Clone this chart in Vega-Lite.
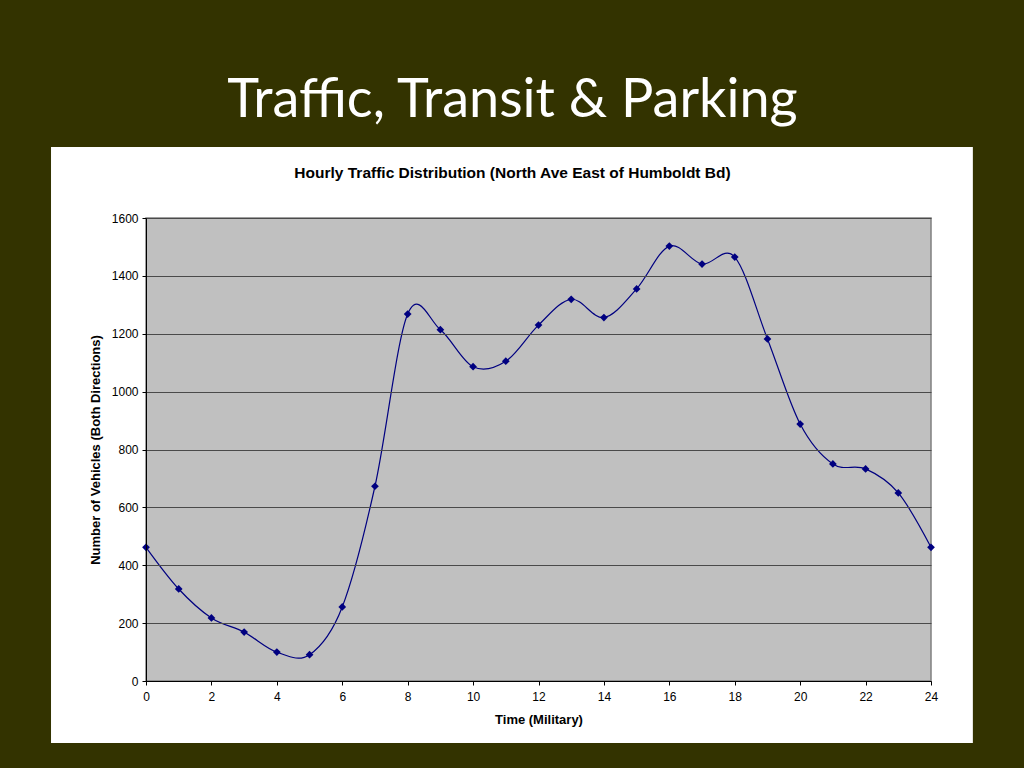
{
  "$schema": "https://vega.github.io/schema/vega-lite/v6.json",
  "width": 785,
  "height": 463,
  "autosize": "none",
  "padding": {"left": 146, "top": 218, "right": 93, "bottom": 87},
  "background": "#333300",
  "title": {
    "text": "Traffic, Transit & Parking",
    "font": "Lato",
    "fontSize": 54,
    "fontWeight": "normal",
    "color": "white",
    "anchor": "middle",
    "frame": "group",
    "dx": -26,
    "offset": -34,
    "subtitle": "Hourly Traffic Distribution (North Ave East of Humboldt Bd)",
    "subtitleFont": "Liberation Sans",
    "subtitleFontSize": 15.5,
    "subtitleFontWeight": "bold",
    "subtitleColor": "#000000",
    "subtitlePadding": 38
  },
  "config": {
    "view": {"stroke": null},
    "axis": {
      "labelFont": "Liberation Sans",
      "labelFontSize": 12,
      "labelColor": "#000000",
      "titleFont": "Liberation Sans",
      "titleFontSize": 13,
      "titleFontWeight": "bold",
      "titleColor": "#000000",
      "domainColor": "#000000",
      "tickColor": "#000000",
      "tickSize": 4
    }
  },
  "layer": [
    {
      "data": {"values": [{}]},
      "mark": {"type": "rect", "color": "white"},
      "encoding": {
        "x": {"datum": -2.904, "type": "quantitative", "scale": {"domain": [0, 24], "nice": false}},
        "x2": {"datum": 25.28},
        "y": {"datum": -214.3, "type": "quantitative", "scale": {"domain": [0, 1600], "nice": false}},
        "y2": {"datum": 1845.3}
      }
    },
    {
      "data": {"values": [{}]},
      "mark": {"type": "rect", "color": "#c0c0c0", "stroke": "#808080", "strokeWidth": 1.5},
      "encoding": {
        "x": {"datum": 0, "type": "quantitative", "scale": {"domain": [0, 24], "nice": false}},
        "x2": {"datum": 24},
        "y": {"datum": 0, "type": "quantitative", "scale": {"domain": [0, 1600], "nice": false}},
        "y2": {"datum": 1600}
      }
    },
    {
      "data": {
        "values": [
          {"hour": 0, "vehicles": 462},
          {"hour": 1, "vehicles": 318},
          {"hour": 2, "vehicles": 218},
          {"hour": 3, "vehicles": 169},
          {"hour": 4, "vehicles": 100},
          {"hour": 5, "vehicles": 91},
          {"hour": 6, "vehicles": 256},
          {"hour": 7, "vehicles": 673},
          {"hour": 8, "vehicles": 1268},
          {"hour": 9, "vehicles": 1214},
          {"hour": 10, "vehicles": 1086},
          {"hour": 11, "vehicles": 1105},
          {"hour": 12, "vehicles": 1230},
          {"hour": 13, "vehicles": 1319},
          {"hour": 14, "vehicles": 1256},
          {"hour": 15, "vehicles": 1355},
          {"hour": 16, "vehicles": 1503},
          {"hour": 17, "vehicles": 1441},
          {"hour": 18, "vehicles": 1465},
          {"hour": 19, "vehicles": 1182},
          {"hour": 20, "vehicles": 888},
          {"hour": 21, "vehicles": 750},
          {"hour": 22, "vehicles": 733},
          {"hour": 23, "vehicles": 650},
          {"hour": 24, "vehicles": 462}
        ]
      },
      "encoding": {
        "x": {
          "field": "hour",
          "type": "quantitative",
          "title": "Time (Military)",
          "scale": {"domain": [0, 24], "nice": false},
          "axis": {
            "values": [0, 2, 4, 6, 8, 10, 12, 14, 16, 18, 20, 22, 24],
            "grid": false,
            "labelFlush": false,
            "labelPadding": 6,
            "titlePadding": 11,
            "zindex": 1
          }
        },
        "y": {
          "field": "vehicles",
          "type": "quantitative",
          "title": "Number of Vehicles (Both Directions)",
          "scale": {"domain": [0, 1600], "nice": false},
          "axis": {
            "values": [0, 200, 400, 600, 800, 1000, 1200, 1400, 1600],
            "format": "d",
            "grid": true,
            "gridColor": "#4a4a4a",
            "gridWidth": 1.2,
            "labelFlush": false,
            "labelPadding": 4,
            "titlePadding": 9,
            "zindex": 1
          }
        }
      },
      "layer": [
        {"mark": {"type": "line", "interpolate": "cardinal", "color": "#000080", "strokeWidth": 1.2}},
        {"mark": {"type": "point", "shape": "diamond", "filled": true, "color": "#000080", "size": 60, "opacity": 1}}
      ]
    }
  ]
}
